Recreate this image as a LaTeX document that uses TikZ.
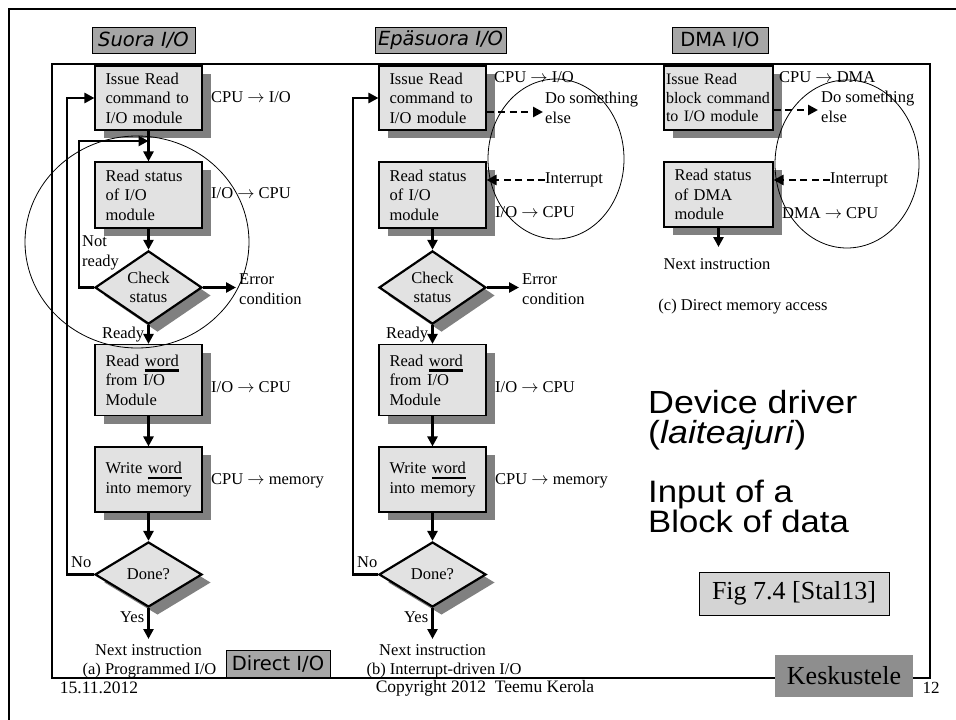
\documentclass[tikz,border=0pt]{standalone}
\usepackage{fontspec}
\setmainfont{Liberation Serif}
\newfontfamily\headsans{DejaVu Sans}
\newfontfamily\bigsans[FakeStretch=1.12]{Liberation Sans}
\usetikzlibrary{shapes.geometric,shadows,arrows.meta}

\definecolor{boxfill}{HTML}{E2E2E2}
\definecolor{shadefill}{HTML}{808080}
\definecolor{headfill}{HTML}{A6A6A6}
\definecolor{keskfill}{HTML}{8E8E8E}
\definecolor{figfill}{HTML}{D4D4D4}

% thick bar under an emphasised word
\newcommand\barword[1]{\setbox0=\hbox{#1}\rlap{\rule[-5.5pt]{\wd0}{2.5pt}}\box0}

\tikzset{
  txt/.style={inner sep=0pt, font=\fontsize{16.5}{19.5}\selectfont},
  stepbox/.style={draw, line width=1.1pt, fill=boxfill, minimum width=107pt,
    text width=86pt, inner xsep=10.5pt, inner ysep=0pt, align=left,
    font=\fontsize{16.5}{19.5}\selectfont,
    execute at begin node={\hyphenpenalty=10000\relax\exhyphenpenalty=10000\relax\hbadness=10000\relax\hfuzz=20pt\relax},
    general shadow={fill=shadefill, shadow xshift=9pt, shadow yshift=-8pt}},
  testbox/.style={diamond, draw, line width=2.2pt, fill=boxfill, inner sep=0pt,
    minimum width=107pt, minimum height=61pt, align=center,
    font=\fontsize{16.5}{19.5}\selectfont,
    general shadow={fill=shadefill, shadow xshift=9pt, shadow yshift=-8pt}},
  flow/.style={line width=2.6pt, -{Triangle[length=10pt,width=10pt]}},
  dashflow/.style={flow, dash pattern=on 7pt off 4.5pt},
  ring/.style={line width=0.8pt},
  heading/.style={draw, line width=0.8pt, fill=headfill, inner sep=0pt,
    font=\headsans\fontsize{19.5}{22}\selectfont},
  bigtxt/.style={anchor=north west, inner sep=0pt, align=left,
    execute at begin node={\lineskiplimit=-20pt\relax}},
}

\begin{document}
\begin{tikzpicture}[x=1pt, y=-1pt]
\useasboundingbox (0,0) rectangle (956,720);

% slide frames
\draw[line width=2pt] (9,720) -- (9,9) -- (956,9);
\draw[line width=2pt] (52,64) rectangle (930,678);

% headings
\node[heading, minimum width=103pt, minimum height=26pt] (hsuora) at (143.5,40) {\itshape Suora I/O};
\node[heading, minimum width=131pt, minimum height=26pt] (hepa) at (440.5,40) {\itshape Epäsuora I/O};
\node[heading, minimum width=96pt, minimum height=26pt] (hdma) at (720,40) {DMA I/O};

% ---------------- (a) programmed I/O
\node[stepbox, minimum height=64pt] (a1) at (148.5,98) {Issue~Read\\command~to\\I/O~module};
\node[stepbox, minimum height=66pt] (a2) at (148.5,195) {Read~status\\of~I/O\\module};
\node[testbox] (a3) at (148.5,287.5) {Check\\status};
\node[stepbox, minimum height=71pt] (a4) at (148.5,380) {Read~\barword{word}\\from~I/O\\Module};
\node[stepbox, minimum height=65pt] (a5) at (148.5,479.5) {Write~\barword{word}\\into~memory};
\node[testbox, minimum height=65pt] (a6) at (148.5,574.5) {Done?};
\coordinate (anr) at (148.5,141);
\coordinate (aerr) at (236,287.5);
\coordinate (anext) at (148.5,639);

\draw[flow] (a1) -- (a2);
\draw[flow] (a2) -- (a3);
\draw[flow] (a3) -- node[txt, midway, left=3pt] (aready) {Ready} (a4);
\draw[flow] (a4) -- (a5);
\draw[flow] (a5) -- (a6);
\draw[flow] (a6) -- node[txt, pos=0.3, left=3pt] (ayes) {Yes} (anext);
\draw[flow] (a3.west) -- ++(-15,0) |- (anr);
\draw[flow] (a6.west) -- ++(-27,0) |- (a1.west);
\draw[flow] (a3.east) -- (aerr);

\node[txt, anchor=west, align=left] (anotready) at (82,253) {Not\\ready};
\node[txt, anchor=west] (ano) at (71,562) {No};
\node[txt, anchor=west, align=left] (aerrtxt) at (239,289) {Error\\condition};
\node[txt, anchor=west] (al1) at (211,97) {CPU $\rightarrow$ I/O};
\node[txt, anchor=west] (al2) at (211,193) {I/O $\rightarrow$ CPU};
\node[txt, anchor=west] (al3) at (211,387) {I/O $\rightarrow$ CPU};
\node[txt, anchor=west] (al4) at (211,481) {CPU $\rightarrow$ memory};
\node[txt] (anexttxt) at (148.5,650) {Next instruction};
\node[txt] (acap) at (149.5,671) {(a) Programmed I/O};
\node[heading, minimum width=104pt, minimum height=27pt] (hdirect) at (278,663.5) {Direct I/O};

% ---------------- (b) interrupt-driven I/O
\node[stepbox, minimum height=64pt] (b1) at (432.5,98) {Issue~Read\\command~to\\I/O~module};
\node[stepbox, minimum height=66pt] (b2) at (432.5,195) {Read~status\\of~I/O\\module};
\node[testbox] (b3) at (432.5,287.5) {Check\\status};
\node[stepbox, minimum height=71pt] (b4) at (432.5,380) {Read~\barword{word}\\from~I/O\\Module};
\node[stepbox, minimum height=65pt] (b5) at (432.5,479.5) {Write~\barword{word}\\into~memory};
\node[testbox, minimum height=65pt] (b6) at (432.5,574.5) {Done?};
\coordinate (berr) at (519,287.5);
\coordinate (bnext) at (432.5,639);
\coordinate (bdo) at (543,112);

\draw[flow] (b2) -- (b3);
\draw[flow] (b3) -- node[txt, midway, left=3pt] (bready) {Ready} (b4);
\draw[flow] (b4) -- (b5);
\draw[flow] (b5) -- (b6);
\draw[flow] (b6) -- node[txt, pos=0.3, left=3pt] (byes) {Yes} (bnext);
\draw[flow] (b6.west) -- ++(-25,0) |- (b1.west);
\draw[flow] (b3.east) -- (berr);

\node[txt, anchor=west] (bno) at (357,562) {No};
\node[txt, anchor=west, align=left] (berrtxt) at (522,289) {Error\\condition};
\node[txt, anchor=west] (bl1) at (494,77) {CPU $\rightarrow$ I/O};
\node[txt, anchor=west, align=left] (bdotxt) at (545,108) {Do something\\else};
\node[txt, anchor=west] (binttxt) at (545,180) {Interrupt};
\node[txt, anchor=west] (bl2) at (495,212) {I/O $\rightarrow$ CPU};
\node[txt, anchor=west] (bl3) at (495,387) {I/O $\rightarrow$ CPU};
\node[txt, anchor=west] (bl4) at (495,481) {CPU $\rightarrow$ memory};
\draw[dashflow] ([yshift=-14pt]b1.east) -- (bdo);
\draw[dashflow] (binttxt.west) -- ([yshift=15pt]b2.east);
\node[txt] (bnexttxt) at (432.5,650) {Next instruction};
\node[txt] (bcap) at (444,671) {(b) Interrupt-driven I/O};

% ---------------- (c) direct memory access
\node[stepbox, minimum height=64pt, text width=105pt, inner xsep=2pt,
      font=\fontsize{16}{18.5}\selectfont] (c1) at (718.5,98) {Issue~Read\\block~command\\to~I/O~module};
\node[stepbox, minimum height=65pt, text width=88pt] (c2) at (718.5,194.5) {Read~status\\of~DMA\\module};
\coordinate (cnext) at (718.5,247);
\coordinate (cdo) at (818,110);
\draw[flow] (c2) -- (cnext);
\node[txt, anchor=west] (cl1) at (779,77) {CPU $\rightarrow$ DMA};
\node[txt, anchor=west, align=left] (cdotxt) at (821,107) {Do something\\else};
\node[txt, anchor=west] (cinttxt) at (830,180) {Interrupt};
\node[txt, anchor=west] (cl2) at (782,213) {DMA $\rightarrow$ CPU};
\draw[dashflow] ([yshift=-12pt]c1.east) -- (cdo);
\draw[dashflow] (cinttxt.west) -- ([yshift=14.5pt]c2.east);
\node[txt] (cnexttxt) at (717,264) {Next instruction};
\node[txt] (ccap) at (743,307) {(c) Direct memory access};

% ---------------- highlight rings
\draw[ring] (137,242) ellipse [x radius=112pt, y radius=106pt];
\draw[ring] (556,159) ellipse [x radius=68pt, y radius=80pt];
\draw[ring] (847,164) ellipse [x radius=72pt, y radius=84pt];

% ---------------- side text
\node[bigtxt, font=\bigsans\fontsize{32}{30}\selectfont] (dd) at (648,390) {Device driver\\(\textit{laiteajuri})};
\node[bigtxt, font=\bigsans\fontsize{31}{29.8}\selectfont] (inp) at (648,480) {Input of a\\Block of data};
\node[draw, line width=0.8pt, fill=figfill, minimum width=190pt, minimum height=43pt,
      inner sep=0pt, font=\fontsize{26}{30}\selectfont] (fig) at (794,593.5) {Fig 7.4 [Stal13]};

% ---------------- footer
\node[fill=keskfill, minimum width=138pt, minimum height=42pt, inner sep=0pt,
      font=\fontsize{26}{30}\selectfont] (kesk) at (844,676) {Keskustele};
\node[inner sep=0pt, font=\fontsize{17.5}{20}\selectfont] (date) at (99,688) {15.11.2012};
\node[inner sep=0pt, font=\fontsize{17.5}{20}\selectfont] (copy) at (485,688) {Copyright 2012\ \ Teemu Kerola};
\node[inner sep=0pt, font=\fontsize{17}{20}\selectfont] (pageno) at (931,688) {12};
\end{tikzpicture}
\end{document}
